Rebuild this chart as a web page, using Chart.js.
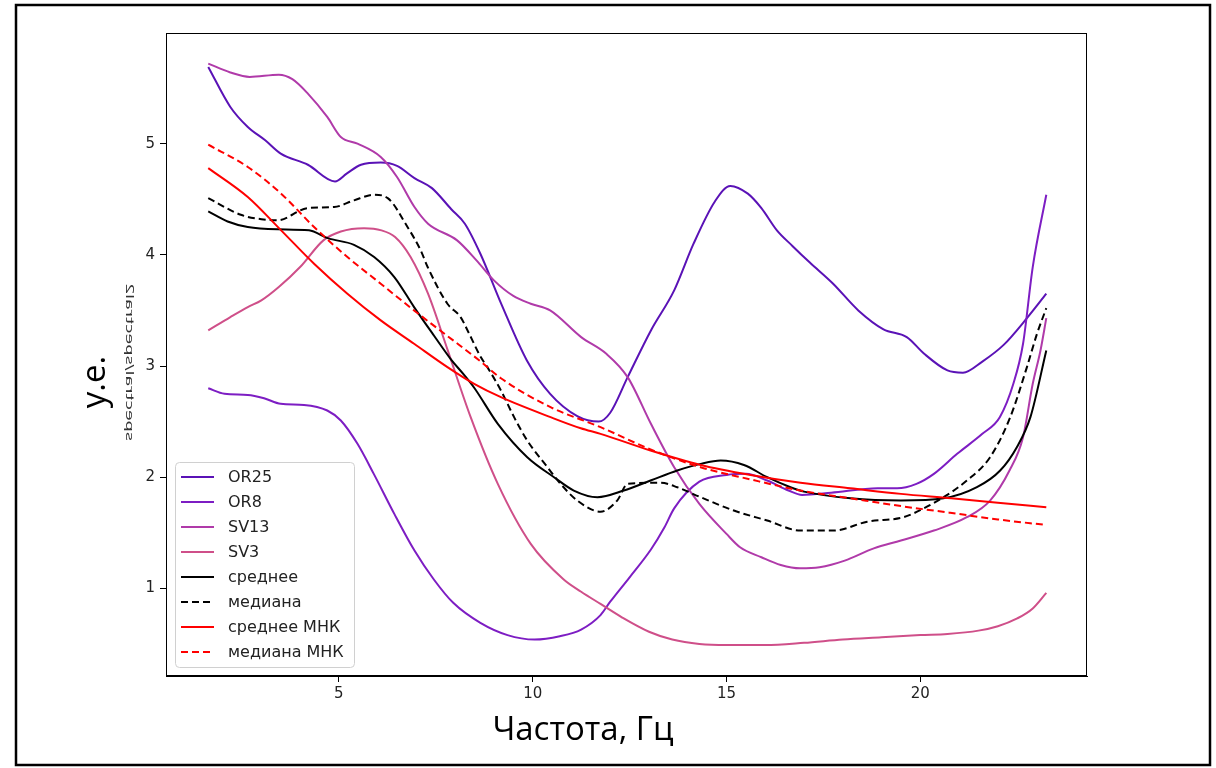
<!DOCTYPE html>
<html>
<head>
<meta charset="utf-8">
<script src="https://cdn.jsdelivr.net/npm/chart.js@4.4.1/dist/chart.umd.min.js"></script>
<style>
  html, body { margin: 0; padding: 0; background: #fff; }
  #wrap { width: 1216px; height: 768px; }
</style>
</head>
<body>
<div id="wrap"><canvas id="spectraChart" width="1216" height="768"></canvas></div>
<script>
// ряды (частота, Гц -> у.е.)
const or25X = [1.63, 2.2, 2.65, 3.1, 3.5, 4.2, 4.9, 5.2, 5.57, 6.08, 6.5, 6.95, 7.4, 7.9, 8.25, 8.65, 9.2, 9.85, 10.45, 11.15, 11.7, 12.0, 12.45, 13.05, 13.65, 14.15, 14.7, 15.1, 15.55, 15.9, 16.3, 16.7, 17.15, 17.75, 18.4, 19.05, 19.65, 20.1, 20.7, 21.1, 21.6, 22.15, 22.75, 23.25];
const or25Y = [5.69, 5.33, 5.15, 5.03, 4.91, 4.81, 4.66, 4.73, 4.81, 4.83, 4.80, 4.69, 4.60, 4.41, 4.28, 4.01, 3.55, 3.05, 2.75, 2.55, 2.50, 2.58, 2.90, 3.32, 3.68, 4.10, 4.48, 4.62, 4.55, 4.42, 4.22, 4.08, 3.93, 3.74, 3.50, 3.33, 3.26, 3.11, 2.96, 2.94, 3.04, 3.19, 3.43, 3.65];

const or8X = [1.63, 2.05, 2.65, 3.07, 3.5, 4.1, 4.7, 5.05, 5.48, 5.9, 6.43, 6.95, 7.45, 7.95, 8.65, 9.35, 10.05, 10.7, 11.25, 11.75, 12.0, 12.5, 13.05, 13.4, 13.65, 14.3, 15.0, 15.5, 16.05, 16.6, 16.95, 17.7, 18.9, 19.4, 19.9, 20.35, 20.95, 21.6, 22.05, 22.4, 22.65, 22.9, 23.25];
const or8Y = [2.80, 2.75, 2.74, 2.71, 2.66, 2.65, 2.60, 2.51, 2.30, 2.03, 1.67, 1.34, 1.08, 0.87, 0.69, 0.58, 0.54, 0.57, 0.63, 0.76, 0.88, 1.10, 1.35, 1.55, 1.72, 1.96, 2.02, 2.03, 1.97, 1.88, 1.84, 1.86, 1.90, 1.90, 1.94, 2.03, 2.21, 2.39, 2.54, 2.84, 3.20, 3.89, 4.54];

const sv13X = [1.63, 2.2, 2.7, 3.45, 3.8, 4.2, 4.7, 5.05, 5.48, 6.08, 6.5, 6.95, 7.3, 8.05, 8.55, 9.0, 9.5, 9.95, 10.45, 11.25, 11.9, 12.45, 13.05, 13.65, 14.3, 15.0, 15.35, 15.9, 16.4, 16.9, 17.4, 18.05, 18.8, 19.5, 20.35, 21.2, 21.8, 22.3, 22.65, 22.9, 23.1, 23.25];
const sv13Y = [5.72, 5.64, 5.60, 5.62, 5.58, 5.45, 5.24, 5.06, 5.00, 4.88, 4.70, 4.43, 4.28, 4.13, 3.95, 3.77, 3.63, 3.56, 3.50, 3.26, 3.11, 2.90, 2.48, 2.09, 1.76, 1.49, 1.37, 1.28, 1.21, 1.18, 1.19, 1.25, 1.36, 1.43, 1.52, 1.64, 1.79, 2.06, 2.36, 2.84, 3.14, 3.43];

const sv3X = [1.63, 2.2, 2.65, 3.0, 3.45, 4.0, 4.6, 5.05, 5.65, 6.1, 6.45, 6.85, 7.3, 7.8, 8.4, 9.1, 9.95, 10.8, 11.25, 11.75, 12.3, 13.0, 13.6, 14.3, 15.0, 16.0, 17.0, 18.0, 19.0, 20.0, 20.7, 21.5, 22.0, 22.5, 22.9, 23.25];
const sv3Y = [3.32, 3.44, 3.53, 3.59, 3.71, 3.89, 4.13, 4.21, 4.24, 4.22, 4.16, 3.98, 3.65, 3.15, 2.54, 1.94, 1.40, 1.08, 0.97, 0.86, 0.74, 0.61, 0.54, 0.50, 0.49, 0.49, 0.51, 0.54, 0.56, 0.58, 0.59, 0.62, 0.66, 0.73, 0.82, 0.96];

const meanX = [1.63, 2.13, 2.65, 3.42, 4.23, 4.71, 5.39, 5.91, 6.43, 6.94, 7.46, 7.89, 8.23, 8.5, 9.1, 9.86, 10.55, 11.06, 11.67, 12.35, 13.04, 13.73, 14.33, 14.85, 15.45, 16.05, 16.65, 17.0, 18.2, 19.5, 20.6, 21.46, 22.06, 22.49, 22.84, 23.25];
const meanY = [4.39, 4.30, 4.25, 4.23, 4.22, 4.15, 4.09, 3.98, 3.80, 3.53, 3.27, 3.06, 2.92, 2.80, 2.48, 2.18, 2.00, 1.88, 1.82, 1.88, 1.97, 2.06, 2.12, 2.15, 2.11, 2.00, 1.91, 1.87, 1.81, 1.79, 1.81, 1.91, 2.06, 2.27, 2.54, 3.14];

const medianX = [1.63, 2.47, 3.0, 3.42, 4.19, 4.88, 5.39, 5.91, 6.26, 6.77, 7.11, 7.29, 7.8, 8.14, 8.32, 8.66, 8.83, 9.18, 9.52, 9.86, 10.38, 10.72, 11.15, 11.75, 12.18, 12.45, 13.3, 13.73, 14.33, 15.19, 16.05, 16.91, 17.77, 18.63, 19.57, 20.09, 20.6, 21.2, 21.8, 22.32, 22.75, 23.01, 23.25];
const medianY = [4.51, 4.36, 4.32, 4.31, 4.42, 4.43, 4.49, 4.54, 4.51, 4.25, 4.04, 3.89, 3.56, 3.44, 3.32, 3.08, 2.99, 2.78, 2.54, 2.33, 2.09, 1.94, 1.79, 1.69, 1.79, 1.94, 1.95, 1.91, 1.82, 1.70, 1.61, 1.52, 1.52, 1.60, 1.64, 1.72, 1.82, 1.97, 2.18, 2.54, 2.99, 3.29, 3.52];

const meanFitX = [1.63, 2.65, 3.51, 4.36, 5.22, 6.08, 6.94, 7.8, 8.49, 9.18, 10.46, 11.24, 11.75, 13.04, 14.33, 15.62, 16.91, 18.2, 19.5, 20.8, 22.0, 23.25];
const meanFitY = [4.78, 4.52, 4.22, 3.92, 3.65, 3.41, 3.20, 2.99, 2.84, 2.72, 2.54, 2.44, 2.39, 2.24, 2.11, 2.02, 1.95, 1.90, 1.85, 1.81, 1.77, 1.73];

const medianFitX = [1.63, 2.65, 3.51, 4.36, 5.22, 6.08, 6.94, 7.8, 8.66, 9.18, 10.46, 11.75, 13.04, 14.33, 15.62, 16.91, 18.2, 19.5, 20.77, 22.0, 23.25];
const medianFitY = [4.99, 4.79, 4.55, 4.25, 3.98, 3.74, 3.50, 3.27, 3.04, 2.89, 2.63, 2.45, 2.25, 2.09, 1.98, 1.88, 1.81, 1.74, 1.68, 1.62, 1.57];

const seriesNames = ['OR25', 'OR8', 'SV13', 'SV3', 'среднее', 'медиана', 'среднее МНК', 'медиана МНК'];
const xTicks = [5, 10, 15, 20];
const yTicks = [1, 2, 3, 4, 5];

function pts(xs, ys) {
    return xs.map((x, i) => ({x: x, y: ys[i]}));
}

const styles = [
    {color: '#5a12b6', dash: []},
    {color: '#7d1dc3', dash: []},
    {color: '#b03aa9', dash: []},
    {color: '#cf4f89', dash: []},
    {color: '#000000', dash: []},
    {color: '#000000', dash: [7, 4]},
    {color: '#ff0000', dash: []},
    {color: '#ff0000', dash: [7, 4]}
];
const allData = [
    pts(or25X, or25Y), pts(or8X, or8Y), pts(sv13X, sv13Y), pts(sv3X, sv3Y),
    pts(meanX, meanY), pts(medianX, medianY), pts(meanFitX, meanFitY), pts(medianFitX, medianFitY)
];

const datasets = seriesNames.map((name, i) => ({
    label: name,
    data: allData[i],
    borderColor: styles[i].color,
    backgroundColor: styles[i].color,
    borderDash: styles[i].dash,
    borderWidth: 2,
    pointRadius: 0,
    fill: false,
    cubicInterpolationMode: 'monotone',
    order: seriesNames.length - i // как в matplotlib: последние поверх
}));

// рамка, подписи осей, легенда
const decor = {
    id: 'decor',
    afterDatasetsDraw(chart) {
        const ctx = chart.ctx;
        const a = chart.chartArea;
        ctx.save();
        ctx.strokeStyle = '#000';
        ctx.lineWidth = 1;
        ctx.strokeRect(a.left + 0.5, a.top + 0.5, a.right - a.left - 1, a.bottom - a.top - 1);

        // легенда
        const lx = 175, ly = 462, lw = 179, lh = 205;
        ctx.beginPath();
        ctx.roundRect(lx + 0.5, ly + 0.5, lw, lh, 4);
        ctx.fillStyle = 'rgba(255,255,255,0.8)';
        ctx.fill();
        ctx.strokeStyle = '#d0d0d0';
        ctx.stroke();
        ctx.font = '16px "DejaVu Sans"';
        ctx.textBaseline = 'middle';
        ctx.textAlign = 'left';
        chart.data.datasets.forEach((ds, i) => {
            const y = 477 + i * 25;
            ctx.beginPath();
            ctx.setLineDash(ds.borderDash);
            ctx.strokeStyle = ds.borderColor;
            ctx.lineWidth = 2;
            ctx.moveTo(181, y);
            ctx.lineTo(214, y);
            ctx.stroke();
            ctx.setLineDash([]);
            ctx.fillStyle = '#222';
            ctx.fillText(ds.label, 228, y + 1);
        });
        ctx.restore();
    },
    afterDraw(chart) {
        const ctx = chart.ctx;
        ctx.save();
        // внешняя рамка
        ctx.strokeStyle = '#000';
        ctx.lineWidth = 2.5;
        ctx.strokeRect(16, 5, 1194, 760);

        // подпись оси X
        ctx.fillStyle = '#000';
        ctx.font = '33px "Open Sans"';
        ctx.textAlign = 'center';
        ctx.textBaseline = 'alphabetic';
        ctx.fillText('Частота, Гц', 583, 740);

        // подпись оси Y
        ctx.save();
        ctx.translate(105, 382);
        ctx.rotate(-Math.PI / 2);
        ctx.fillText('у.е.', 0, 0);
        ctx.restore();

        // зеркальная служебная подпись
        ctx.save();
        ctx.font = '11px "DejaVu Sans"';
        const w = ctx.measureText('spectral/spectral2').width;
        ctx.translate(129, 362);
        ctx.rotate(-Math.PI / 2);
        ctx.scale(158 / w, -1);
        ctx.fillStyle = '#333';
        ctx.textBaseline = 'middle';
        ctx.fillText('spectral/spectral2', 0, 0);
        ctx.restore();
        ctx.restore();
    }
};

new Chart(document.getElementById('spectraChart'), {
    type: 'line',
    data: {datasets: datasets},
    options: {
        responsive: false,
        animation: false,
        layout: {padding: {left: 0, top: 33, right: 129, bottom: 0}},
        plugins: {
            legend: {display: false},
            tooltip: {enabled: false}
        },
        scales: {
            x: {
                type: 'linear',
                min: 0.54,
                max: 24.3,
                afterBuildTicks: function (scale) {
                    scale.ticks = xTicks.map(v => ({value: v}));
                },
                afterFit: function (scale) {
                    scale.height = 92;
                },
                grid: {drawOnChartArea: false, tickLength: 6, tickColor: '#000'},
                border: {color: '#000', width: 1},
                ticks: {
                    color: '#222',
                    padding: 3,
                    maxRotation: 0,
                    font: {family: 'DejaVu Sans', size: 15}
                }
            },
            y: {
                type: 'linear',
                min: 0.212,
                max: 5.995,
                afterBuildTicks: function (scale) {
                    scale.ticks = yTicks.map(v => ({value: v}));
                },
                afterFit: function (scale) {
                    scale.width = 166;
                },
                grid: {drawOnChartArea: false, tickLength: 6, tickColor: '#000'},
                border: {color: '#000', width: 1},
                ticks: {
                    color: '#222',
                    padding: 5,
                    font: {family: 'DejaVu Sans', size: 15}
                }
            }
        }
    },
    plugins: [decor]
});
</script>
</body>
</html>
